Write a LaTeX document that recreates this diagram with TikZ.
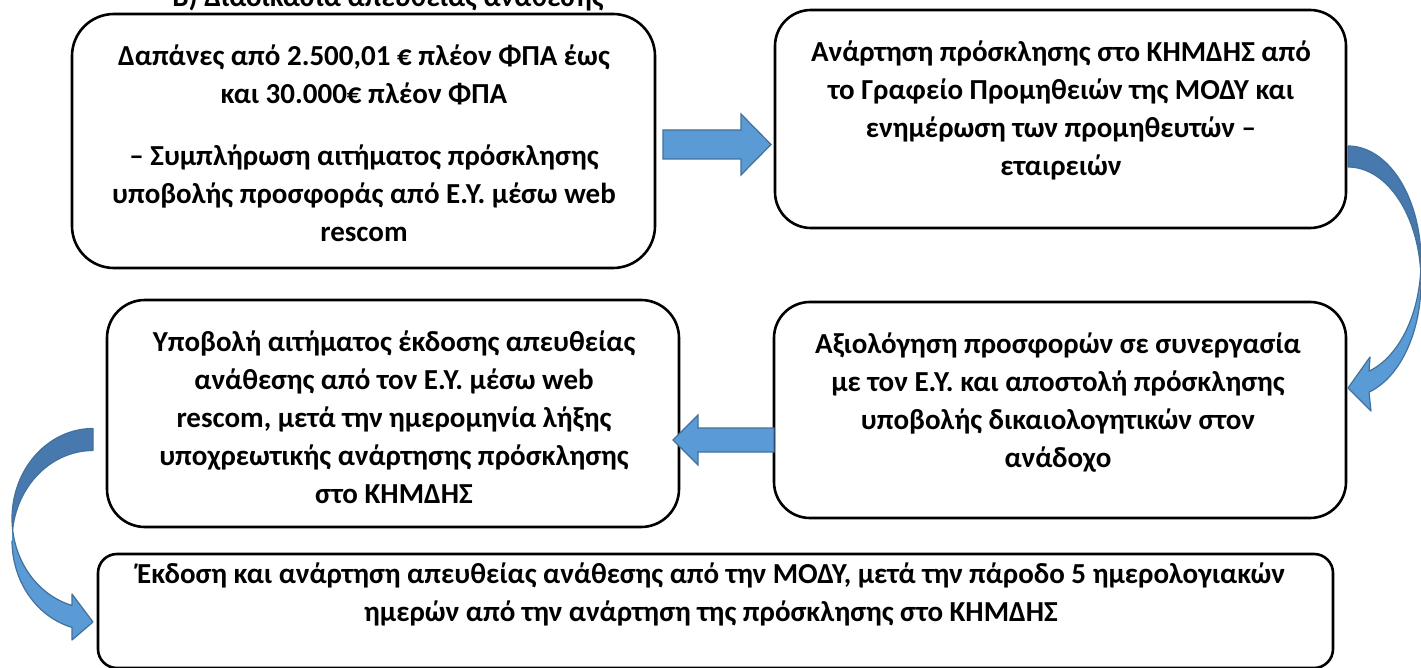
\documentclass[tikz,border=0pt]{standalone}
\usepackage{fontspec}
\setmainfont{Carlito}
\definecolor{arrowfill}{HTML}{5B9BD5}
\definecolor{arrowdark}{HTML}{4778AE}
\definecolor{arrowline}{HTML}{41719C}
\tikzset{
  stepbox/.style={draw=black, line width=2.6pt, fill=white, inner sep=0pt, outer sep=0pt},
  boxtext/.style={font=\bfseries\fontsize{29}{38}\selectfont, align=center, inner sep=0pt},
  blockarrow/.style={fill=arrowfill, draw=arrowline, line width=1.2pt},
  bandlight/.style={fill=arrowfill},
  banddark/.style={fill=arrowdark},
  bandline/.style={draw=arrowline, line width=1.2pt, line join=round},
}
\begin{document}
\begin{tikzpicture}[x=1pt,y=-1pt]
\clip (0,0) rectangle (1421,668);
\fill[white] (0,0) rectangle (1421,668);

% heading (its upper half falls outside the page)
\node[boxtext, anchor=base] (title) at (388,7) {Β) Διαδικασία απευθείας ανάθεσης};

% the five steps
\node[stepbox, rounded corners=42pt, minimum width=583pt, minimum height=254pt] (b1) at (363.5,141) {};
\node[stepbox, rounded corners=36pt, minimum width=571pt, minimum height=218pt] (b2) at (1060.5,119) {};
\node[stepbox, rounded corners=38pt, minimum width=572pt, minimum height=227pt] (b3) at (393,413.5) {};
\node[stepbox, rounded corners=36pt, minimum width=572pt, minimum height=216pt] (b4) at (1060,410) {};
\node[stepbox, rounded corners=19pt, minimum width=1235pt, minimum height=114pt] (b5) at (715.5,611) {};

\node[boxtext] (t1) at (364,143) {Δαπάνες από 2.500,01 € πλέον ΦΠΑ έως\\ και 30.000€ πλέον ΦΠΑ\\[24pt]
  – Συμπλήρωση αιτήματος πρόσκλησης\\ υποβολής προσφοράς από Ε.Υ. μέσω web\\ rescom};
\node[boxtext] (t2) at (1061,110) {Ανάρτηση πρόσκλησης στο ΚΗΜΔΗΣ από\\ το Γραφείο Προμηθειών της ΜΟΔΥ και\\
  ενημέρωση των προμηθευτών –\\ εταιρειών};
\node[boxtext] (t4) at (1058,403) {Αξιολόγηση προσφορών σε συνεργασία\\ με τον Ε.Υ. και αποστολή πρόσκλησης\\
  υποβολής δικαιολογητικών στον\\ ανάδοχο};
\node[boxtext] (t3) at (394,417) {Υποβολή αιτήματος έκδοσης απευθείας\\ ανάθεσης από τον Ε.Υ. μέσω web\\
  rescom, μετά την ημερομηνία λήξης\\ υποχρεωτικής ανάρτησης πρόσκλησης\\ στο ΚΗΜΔΗΣ};
\node[boxtext] (t5) at (711,594) {Έκδοση και ανάρτηση απευθείας ανάθεσης από την ΜΟΔΥ, μετά την πάροδο 5 ημερολογιακών\\
  ημερών από την ανάρτηση της πρόσκλησης στο ΚΗΜΔΗΣ};

% straight block arrows between the steps
\coordinate (r12) at (663,144.5);
\draw[blockarrow] (r12) ++(0,-14.5) -- ++(78,0) -- ++(0,-16) -- ++(30,30.5) -- ++(-30,30.5) -- ++(0,-16) -- ++(-78,0) -- cycle;
\coordinate (l43) at (774,440);
\draw[blockarrow] (l43) ++(0,-12) -- ++(-76,0) -- ++(0,-13) -- ++(-25,25) -- ++(25,25) -- ++(0,-13) -- ++(76,0) -- cycle;

% curved arrow from step 2 down to step 4 (bending out to the right)
\coordinate (c24) at (1348,261);
\fill[bandlight] plot[domain=0:73.3, samples=40] ({1348+73*cos(\x)},{261+115*sin(\x)})
  -- (1370,357) -- (1348,388) -- (1371,411)
  -- plot[domain=73.3:0, samples=40] ({1348+73*cos(\x)},{282+115*sin(\x)}) -- cycle;
\fill[banddark] plot[domain=-90:0, samples=40] ({1348+73*cos(\x)},{261+115*sin(\x)})
  -- plot[domain=0:-90, samples=40] ({1348+73*cos(\x)},{282+115*sin(\x)}) -- cycle;
\draw[bandline] (1348,167) -- (1348,146)
  -- plot[domain=-90:73.3, samples=80] ({1348+73*cos(\x)},{261+115*sin(\x)})
  -- (1370,357) -- (1348,388) -- (1371,411)
  -- plot[domain=73.3:0, samples=40] ({1348+73*cos(\x)},{282+115*sin(\x)});
\draw[bandline] plot[domain=-90:-7, samples=40] ({1348+73*cos(\x)},{282+115*sin(\x)});

% curved arrow from step 3 down to step 5 (bending out to the left)
\coordinate (c35) at (93,518.5);
\fill[bandlight] plot[domain=180:105, samples=40] ({93+81*cos(\x)},{518.5+90*sin(\x)})
  -- (72,594) -- (93,622) -- (72,640)
  -- plot[domain=105:180, samples=40] ({93+81*cos(\x)},{540.5+90*sin(\x)}) -- cycle;
\fill[banddark] plot[domain=270:180, samples=40] ({93+81*cos(\x)},{518.5+90*sin(\x)})
  -- plot[domain=180:270, samples=40] ({93+81*cos(\x)},{540.5+90*sin(\x)}) -- cycle;
\draw[bandline] (93,450.5) -- (93,428.5)
  -- plot[domain=270:105, samples=80] ({93+81*cos(\x)},{518.5+90*sin(\x)})
  -- (72,594) -- (93,622) -- (72,640)
  -- plot[domain=105:180, samples=40] ({93+81*cos(\x)},{540.5+90*sin(\x)});
\draw[bandline] plot[domain=270:187, samples=40] ({93+81*cos(\x)},{540.5+90*sin(\x)});
\end{tikzpicture}
\end{document}
